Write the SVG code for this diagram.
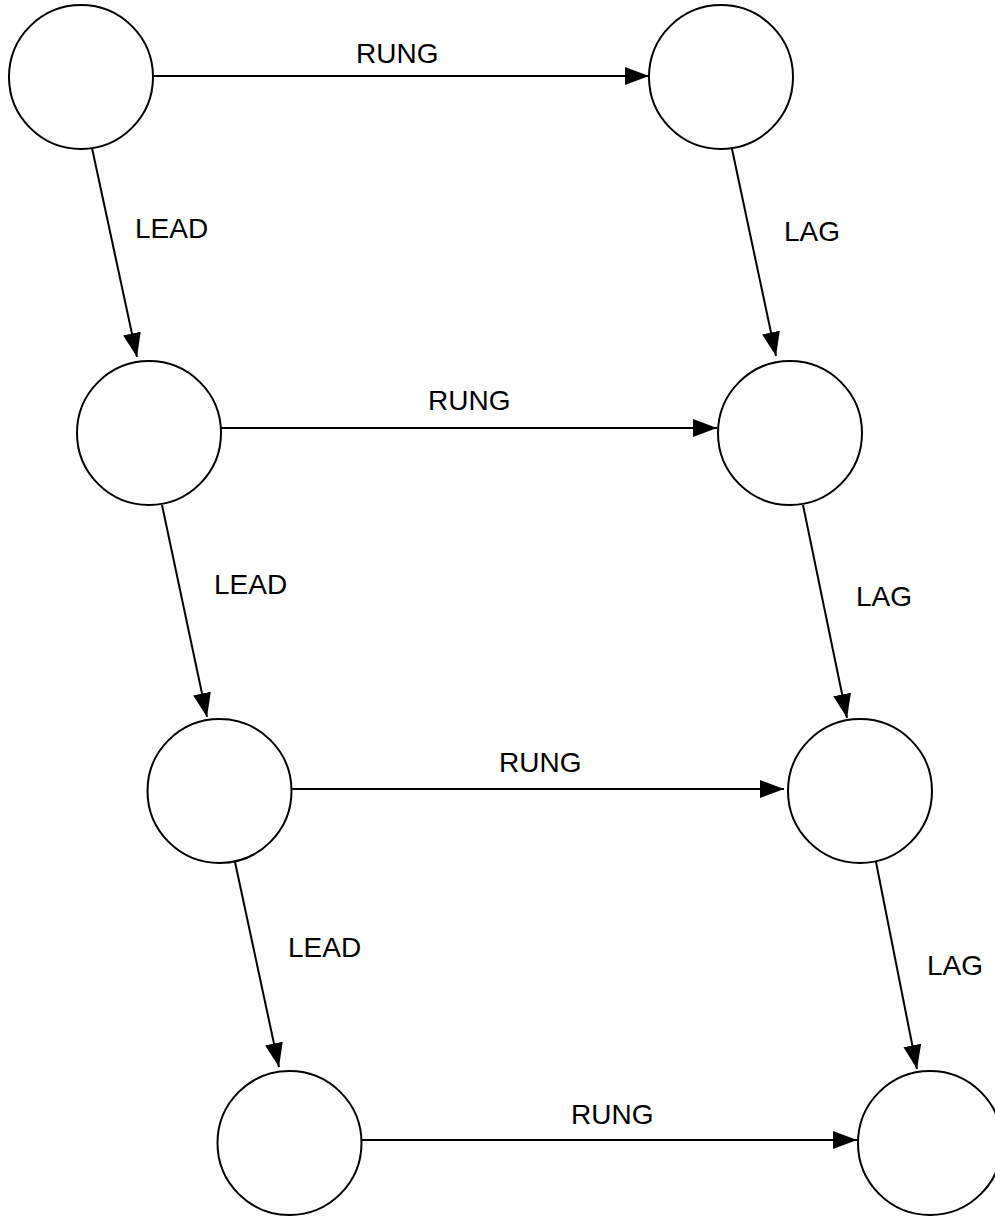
<svg xmlns="http://www.w3.org/2000/svg" width="995" height="1217" viewBox="0 0 995 1217">
<style>
.node{fill:#fff;stroke:#000;stroke-width:2}
.edge{stroke:#000;stroke-width:2;fill:none;marker-end:url(#arr)}
.lbl{font-family:"Liberation Sans",Arial,sans-serif;font-size:28px;fill:#000}
</style>
<defs>
<marker id="arr" markerUnits="userSpaceOnUse" markerWidth="26" markerHeight="20" refX="24" refY="9" orient="auto">
<path d="M0,0 L24,9 L0,18 z" fill="#000"/>
</marker>
</defs>
<rect width="995" height="1217" fill="#fff"/>
<g id="connectors">
<line class="edge" x1="153" y1="76" x2="649" y2="76"/>
<line class="edge" x1="221" y1="428" x2="717" y2="428"/>
<line class="edge" x1="292" y1="789" x2="784" y2="789"/>
<line class="edge" x1="362" y1="1140" x2="857" y2="1140"/>
<line class="edge" x1="92" y1="148" x2="137" y2="357"/>
<line class="edge" x1="162" y1="505" x2="207" y2="717"/>
<line class="edge" x1="235" y1="862" x2="279" y2="1067"/>
<line class="edge" x1="732" y1="149" x2="776" y2="356"/>
<line class="edge" x1="803" y1="505" x2="847" y2="718"/>
<line class="edge" x1="876" y1="862" x2="917" y2="1069"/>
<text class="lbl" x="356" y="63">RUNG</text>
<text class="lbl" x="428" y="410">RUNG</text>
<text class="lbl" x="499" y="772">RUNG</text>
<text class="lbl" x="571" y="1124">RUNG</text>
<text class="lbl" x="135" y="238">LEAD</text>
<text class="lbl" x="214" y="594">LEAD</text>
<text class="lbl" x="288" y="957">LEAD</text>
<text class="lbl" x="784" y="241">LAG</text>
<text class="lbl" x="856" y="606">LAG</text>
<text class="lbl" x="927" y="975">LAG</text>
</g>
<g id="n1"><circle class="node" cx="81" cy="77" r="72"/></g>
<g id="n2"><circle class="node" cx="721" cy="77" r="72"/></g>
<g id="n3"><circle class="node" cx="149" cy="433" r="72"/></g>
<g id="n4"><circle class="node" cx="790" cy="433" r="72"/></g>
<g id="n5"><circle class="node" cx="219.5" cy="791" r="72"/></g>
<g id="n6"><circle class="node" cx="860" cy="791" r="72"/></g>
<g id="n7"><circle class="node" cx="289.5" cy="1143" r="72"/></g>
<g id="n8"><circle class="node" cx="930" cy="1143" r="72"/></g>
</svg>
